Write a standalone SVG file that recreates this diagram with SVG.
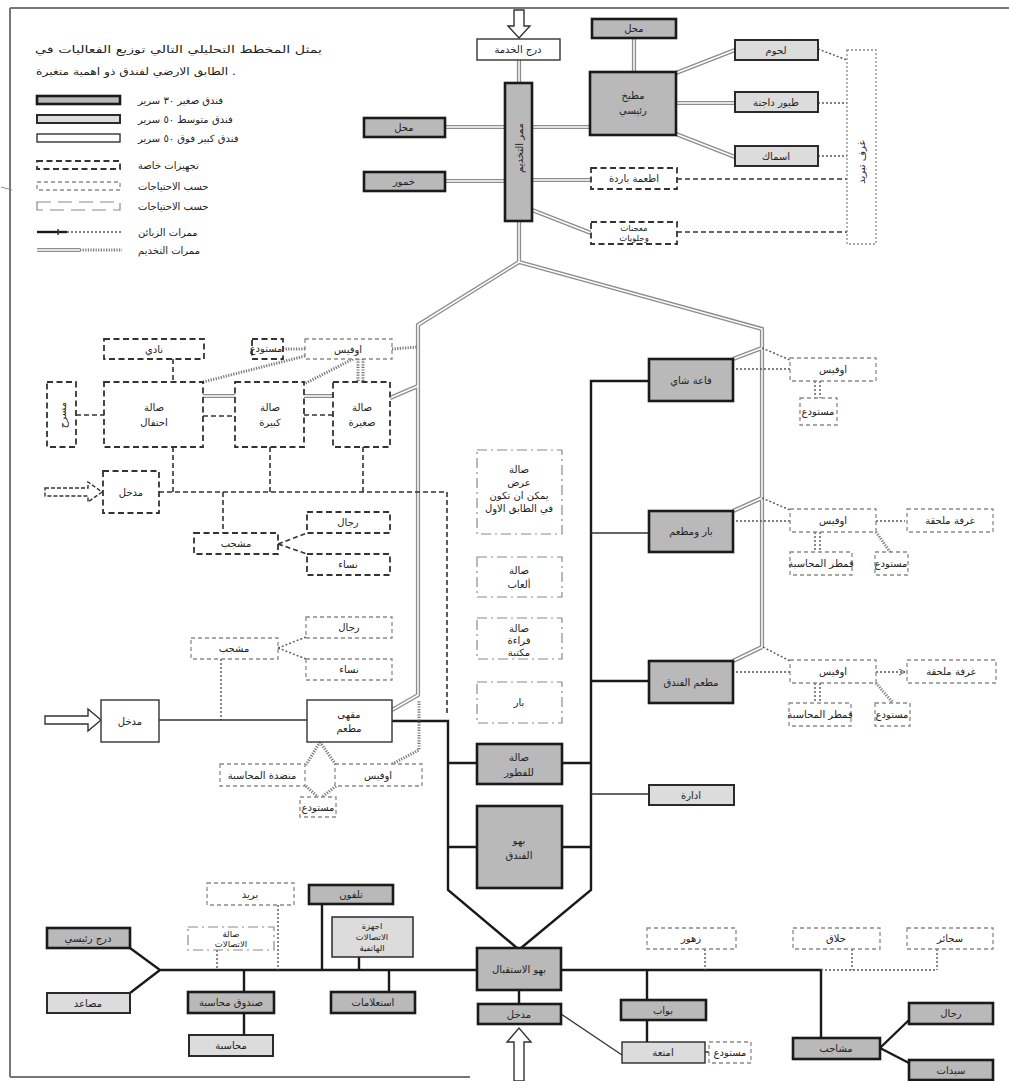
<svg xmlns="http://www.w3.org/2000/svg" width="1009" height="1081" viewBox="0 0 1009 1081">
<defs>
<style>
text{font-family:"DejaVu Sans","Noto Sans",sans-serif;font-size:10px;fill:#222;text-anchor:middle}
.st{text-anchor:start}
.en{text-anchor:end}
.s{fill:#b9b9b9;stroke:#1a1a1a;stroke-width:2.6}
.m{fill:#dcdcdc;stroke:#2a2a2a;stroke-width:2}
.l{fill:#fff;stroke:#333;stroke-width:1.4}
.x{fill:#fff;stroke:#333;stroke-width:1.8;stroke-dasharray:6 3.5}
.a{fill:#fff;stroke:#8a8a8a;stroke-width:1.3;stroke-dasharray:4 3}
.b{fill:#fff;stroke:#8a8a8a;stroke-width:1.2;stroke-dasharray:10 4 2 4}
.cs{fill:none;stroke:#1a1a1a;stroke-width:2.4}
.ct{fill:none;stroke:#333;stroke-width:1.3}
.cd{fill:none;stroke:#555;stroke-width:1.4;stroke-dasharray:2 2}
.ck{fill:none;stroke:#333;stroke-width:1.6;stroke-dasharray:5 3}
.ch{fill:none;stroke:#777;stroke-width:3;stroke-dasharray:1.2 1.4}
.so{fill:none;stroke:#8c8c8c;stroke-width:4.2}
.si{fill:none;stroke:#fff;stroke-width:1.5}
.arr{fill:#fff;stroke:#333;stroke-width:1.4}
.frame{fill:none;stroke:#777;stroke-width:2}
.sm{font-size:8.5px}
</style>
<marker id="ah" markerWidth="8" markerHeight="8" refX="6" refY="3" orient="auto" markerUnits="userSpaceOnUse"><path d="M0,0 L6,3 L0,6" fill="none" stroke="#555" stroke-width="1"/></marker>
<path id="svc" d="M519,60V83 M519,221V262L418,325V695L392,710 M519,262L762,329V647 M445,127H505 M445,181H505 M532,127H590 M532,180H591 M532,210L591,233 M634,38V72 M676,73L735,50 M676,103H735 M676,134L735,157 M762,348L733,359 M762,498L733,511 M762,647L733,661 M418,386L390,398 M203,396H235 M304,396H333"/>
</defs>
<rect width="1009" height="1081" fill="#fff"/>

<g id="frame">
<path class="frame" d="M10,8H1009 M10,8V1077 M10,1077H470"/>
<path d="M1,187L12,190" stroke="#888" stroke-width="1"/>
</g>

<g id="legend">
<text class="en" x="322" y="53" font-size="11.5" textLength="287" lengthAdjust="spacingAndGlyphs">يمثل المخطط التحليلي التالي توزيع الفعاليات في</text>
<text class="st" x="36" y="75" font-size="11.5" textLength="200" lengthAdjust="spacingAndGlyphs">الطابق الارضي لفندق ذو اهمية متغيرة .</text>
<rect class="s" x="37" y="96" width="83" height="8"/>
<text class="st" x="138" y="104">فندق صغير ٣٠ سرير</text>
<rect class="m" x="37" y="115" width="83" height="8"/>
<text class="st" x="138" y="123">فندق متوسط ٥٠ سرير</text>
<rect class="l" x="37" y="134" width="83" height="8"/>
<text class="st" x="138" y="142">فندق كبير فوق ٥٠ سرير</text>
<rect class="x" x="37" y="161" width="83" height="8"/>
<text class="st" x="138" y="169">تجهيزات خاصة</text>
<rect class="a" x="37" y="182" width="83" height="8"/>
<text class="st" x="138" y="190">حسب الاحتياجات</text>
<rect class="b" x="37" y="202" width="83" height="8" style="stroke-dasharray:14 7"/>
<text class="st" x="138" y="210">حسب الاحتياجات</text>
<path class="cs" d="M37,232H67" stroke-width="2"/>
<path d="M58,229V235" stroke="#333" stroke-width="1.5"/>
<path class="cd" d="M67,232H122"/>
<text class="st" x="138" y="236">ممرات الزبائن</text>
<path class="so" d="M37,250H80"/>
<path class="si" d="M37,250H80"/>
<path class="ch" d="M80,250H122"/>
<text class="st" x="138" y="254">ممرات التخديم</text>
</g>

<g id="connectors">
<use href="#svc" class="so"/>
<use href="#svc" class="si"/>
<path class="cd" d="M818,49L847,60 M818,103H847 M818,156H847"/>
<path class="ck" d="M677,179H847" stroke="#666"/>
<path class="ck" d="M677,232H847"/>
<polygon class="arr" points="514,10 524,10 524,26 530,26 519,38 508,26 514,26"/>
<polygon class="arr" points="45,488 88,488 88,482 102,492 88,502 88,496 45,496" style="stroke-dasharray:4 2"/>
<polygon class="arr" points="45,716 88,716 88,709 101,720 88,731 88,724 45,724"/>
<polygon class="arr" points="514,1081 524,1081 524,1042 531,1042 519,1028 507,1042 514,1042"/>
<path class="ck" d="M173,359V382 M76,415H104 M203,416H235 M304,415H333"/>
<path class="ch" d="M305,356L203,382 M353,359L304,384 M392,349L418,347 M283,349H305"/>
<path class="ch" d="M358,359V382 M363,359V382" stroke-width="1.6"/>
<path class="ck" d="M173,447V492 M270,447V492 M363,447V492 M159,492H447 M223,492V533 M278,544L307,533 M278,544L307,554"/>
<path class="ck" d="M447,492V713" stroke-dasharray="2.5 2.5" stroke-width="2"/>
<path class="cd" d="M278,648L306,637 M278,648L306,659 M221,659V720"/>
<path class="ct" d="M159,720H307"/>
<path class="cs" d="M392,721H448V890L517,948"/>
<path class="ch" d="M320,742L306,765 M320,742L336,765 M306,786L318,797 M336,786L322,797" stroke-width="2.2"/>
<path class="ch" d="M392,764L419,750V700" stroke-width="2.2"/>
<path class="cs" d="M649,381H591V890L521,948"/>
<path class="ct" d="M591,533H649 M591,794H649"/>
<path class="cs" d="M591,681H649" stroke-width="2"/>
<path class="cs" d="M448,763H477 M562,763H591 M448,847H477 M562,847H591"/>
<path class="cd" d="M762,348L790,360 M762,498L790,510 M763,647L790,661"/>
<path class="cd" d="M790,369H735 M790,521H735 M790,672H735 M876,521H905 M876,672H905" marker-end="url(#ah)"/>
<path class="cd" d="M815,381V398 M820,381V398 M815,532V552 M820,532V552 M815,683V703 M820,683V703" stroke-width="1.2"/>
<path class="ch" d="M876,532L890,552 M876,683L893,703" stroke-width="2.2"/>
<path class="cs" d="M160,970H477 M561,970H821V1038 M130,948L160,970L130,993" stroke-width="2"/>
<path class="cs" d="M322,904V970 M359,957V970 M244,970V992 M244,1013V1035 M389,970V992 M519,990V1004 M647,970V1000 M647,1020V1042 M880,1048L909,1020 M880,1048L909,1063" stroke-width="2"/>
<path class="ct" d="M705,1052H709 M561,1014L622,1055"/>
<path class="cd" d="M278,905V970 M217,950V970 M705,949V970 M821,970H937 M852,949V970 M937,949V970"/>
</g>

<g id="nodes">
<g id="n-service-stair"><rect class="l" x="477" y="39" width="83" height="21"/><text x="518" y="53">درج الخدمة</text></g>
<g id="n-service-corridor"><rect class="s" x="505" y="83" width="27" height="138"/><text transform="translate(519,148) rotate(-90)" y="4" font-size="11">ممر التخديم</text></g>
<g id="n-shop1"><rect class="s" x="364" y="118" width="81" height="19"/><text x="404" y="131">محل</text></g>
<g id="n-wine"><rect class="s" x="364" y="172" width="81" height="19"/><text x="404" y="185">خمور</text></g>
<g id="n-shop2"><rect class="s" x="592" y="19" width="84" height="19"/><text x="634" y="32">محل</text></g>
<g id="n-kitchen"><rect class="s" x="590" y="72" width="86" height="63"/><text x="633" y="99">مطبخ</text><text x="633" y="114">رئيسي</text></g>
<g id="n-meat"><rect class="m" x="735" y="40" width="83" height="20"/><text x="776" y="54">لحوم</text></g>
<g id="n-poultry"><rect class="m" x="735" y="92" width="83" height="20"/><text x="776" y="106">طيور داجنة</text></g>
<g id="n-fish"><rect class="m" x="735" y="146" width="83" height="20"/><text x="776" y="160">اسماك</text></g>
<g id="n-cold"><rect class="a" x="847" y="50" width="29" height="194" style="stroke-dasharray:2 2"/><text transform="translate(861,162) rotate(-90)" y="4">غرف تبريد</text></g>
<g id="n-cold-food"><rect class="x" x="591" y="168" width="86" height="21"/><text x="634" y="182">اطعمة باردة</text></g>
<g id="n-pastry"><rect class="x" x="591" y="222" width="86" height="22"/><text class="sm" x="634" y="231">معجنات</text><text class="sm" x="634" y="241">وحلويات</text></g>

<g id="n-club"><rect class="x" x="104" y="339" width="100" height="20"/><text x="154" y="353">نادي</text></g>
<g id="n-store-top"><rect class="x" x="252" y="339" width="31" height="20"/><text x="266" y="352" font-size="9">مستودع</text></g>
<g id="n-office-top"><rect class="a" x="305" y="339" width="87" height="20"/><text x="348" y="353">اوفيس</text></g>
<g id="n-stage"><rect class="x" x="47" y="382" width="29" height="65"/><text transform="translate(62,415) rotate(-90)" y="4">مسرح</text></g>
<g id="n-banquet"><rect class="x" x="104" y="382" width="99" height="65"/><text x="154" y="411">صالة</text><text x="154" y="426">احتفال</text></g>
<g id="n-large-hall"><rect class="x" x="235" y="382" width="69" height="65"/><text x="270" y="411">صالة</text><text x="270" y="426">كبيرة</text></g>
<g id="n-small-hall"><rect class="x" x="333" y="382" width="57" height="65"/><text x="362" y="411">صالة</text><text x="362" y="426">صغيرة</text></g>
<g id="n-entry-hall"><rect class="x" x="103" y="471" width="56" height="42"/><text x="131" y="496">مدخل</text></g>
<g id="n-cloak1"><rect class="x" x="194" y="533" width="84" height="21"/><text x="236" y="547">مشجب</text></g>
<g id="n-men1"><rect class="x" x="307" y="512" width="83" height="21"/><text x="348" y="526">رجال</text></g>
<g id="n-women1"><rect class="x" x="307" y="554" width="83" height="21"/><text x="348" y="568">نساء</text></g>

<g id="n-cloak2"><rect class="a" x="191" y="638" width="87" height="21"/><text x="234" y="652">مشجب</text></g>
<g id="n-men2"><rect class="a" x="306" y="617" width="86" height="21"/><text x="349" y="631">رجال</text></g>
<g id="n-women2"><rect class="a" x="306" y="659" width="86" height="21"/><text x="349" y="673">نساء</text></g>
<g id="n-entry-cafe"><rect class="l" x="101" y="700" width="58" height="42"/><text x="130" y="725">مدخل</text></g>
<g id="n-cafe"><rect class="l" x="307" y="700" width="85" height="42"/><text x="349" y="718">مقهى</text><text x="349" y="732">مطعم</text></g>
<g id="n-cashier-desk"><rect class="a" x="220" y="764" width="85" height="22"/><text x="262" y="779">منضدة المحاسبة</text></g>
<g id="n-office-cafe"><rect class="a" x="335" y="764" width="87" height="22"/><text x="378" y="779">اوفيس</text></g>
<g id="n-store-cafe"><rect class="a" x="300" y="797" width="36" height="20"/><text x="318" y="811" font-size="9">مستودع</text></g>

<g id="n-show"><rect class="b" x="477" y="450" width="85" height="84"/><text x="519" y="473">صالة</text><text x="519" y="486">عرض</text><text x="519" y="499">يمكن ان تكون</text><text x="519" y="512">في الطابق الاول</text></g>
<g id="n-games"><rect class="b" x="477" y="557" width="85" height="40"/><text x="519" y="574">صالة</text><text x="519" y="588">ألعاب</text></g>
<g id="n-reading"><rect class="b" x="477" y="618" width="85" height="41"/><text x="519" y="632">صالة</text><text x="519" y="644">قراءة</text><text x="519" y="656">مكتبة</text></g>
<g id="n-bar"><rect class="b" x="477" y="682" width="85" height="41"/><text x="519" y="706">بار</text></g>
<g id="n-breakfast"><rect class="s" x="477" y="744" width="85" height="40"/><text x="519" y="761">صالة</text><text x="519" y="776">للفطور</text></g>
<g id="n-lobby"><rect class="s" x="477" y="806" width="85" height="82"/><text x="519" y="844">بهو</text><text x="519" y="859">الفندق</text></g>

<g id="n-tea"><rect class="s" x="649" y="359" width="84" height="42"/><text x="691" y="384">قاعة شاي</text></g>
<g id="n-office-tea"><rect class="a" x="790" y="358" width="86" height="23"/><text x="833" y="373">اوفيس</text></g>
<g id="n-store-tea"><rect class="a" x="800" y="398" width="37" height="27"/><text x="818" y="415" font-size="9">مستودع</text></g>
<g id="n-bar-rest"><rect class="s" x="649" y="511" width="84" height="41"/><text x="691" y="535">بار ومطعم</text></g>
<g id="n-office-bar"><rect class="a" x="790" y="509" width="86" height="23"/><text x="833" y="524">اوفيس</text></g>
<g id="n-annex-bar"><rect class="a" x="907" y="509" width="86" height="23"/><text x="950" y="524">غرفة ملحقة</text></g>
<g id="n-till-bar"><rect class="a" x="790" y="552" width="62" height="23"/><text x="821" y="567" font-size="9">قمطر المحاسبة</text></g>
<g id="n-store-bar"><rect class="a" x="875" y="552" width="33" height="23"/><text x="891" y="567" font-size="9">مستودع</text></g>
<g id="n-hotel-rest"><rect class="s" x="649" y="661" width="84" height="42"/><text x="691" y="686">مطعم الفندق</text></g>
<g id="n-office-rest"><rect class="a" x="790" y="660" width="86" height="23"/><text x="833" y="675">اوفيس</text></g>
<g id="n-annex-rest"><rect class="a" x="907" y="660" width="89" height="23"/><text x="951" y="675">غرفة ملحقة</text></g>
<g id="n-till-rest"><rect class="a" x="789" y="703" width="62" height="23"/><text x="820" y="718" font-size="9">قمطر المحاسبة</text></g>
<g id="n-store-rest"><rect class="a" x="875" y="703" width="35" height="23"/><text x="892" y="718" font-size="9">مستودع</text></g>
<g id="n-admin"><rect class="m" x="649" y="785" width="85" height="20"/><text x="691" y="799">ادارة</text></g>

<g id="n-reception"><rect class="s" x="477" y="948" width="84" height="42"/><text x="519" y="973">بهو الاستقبال</text></g>
<g id="n-entry-main"><rect class="s" x="478" y="1004" width="83" height="20"/><text x="519" y="1018">مدخل</text></g>
<g id="n-phone"><rect class="s" x="309" y="885" width="84" height="19"/><text x="351" y="898">تلفون</text></g>
<g id="n-post"><rect class="a" x="207" y="883" width="87" height="22"/><text x="250" y="898">بريد</text></g>
<g id="n-comm-hall"><rect class="b" x="188" y="927" width="86" height="23"/><text class="sm" x="231" y="937">صالة</text><text class="sm" x="231" y="947">الاتصالات</text></g>
<g id="n-switchboard"><rect class="m" x="332" y="917" width="81" height="40" style="stroke-width:1.5"/><text class="sm" x="372" y="929">اجهزة</text><text class="sm" x="372" y="940">الاتصالات</text><text class="sm" x="372" y="951">الهاتفية</text></g>
<g id="n-main-stair"><rect class="s" x="47" y="928" width="83" height="20"/><text x="88" y="942">درج رئيسي</text></g>
<g id="n-elevators"><rect class="m" x="47" y="993" width="83" height="20"/><text x="88" y="1007">مصاعد</text></g>
<g id="n-cashbox"><rect class="s" x="188" y="992" width="86" height="21"/><text x="231" y="1006">صندوق محاسبة</text></g>
<g id="n-accounts"><rect class="m" x="189" y="1035" width="84" height="21"/><text x="231" y="1049">محاسبة</text></g>
<g id="n-inquiries"><rect class="s" x="331" y="992" width="84" height="21"/><text x="373" y="1006">استعلامات</text></g>
<g id="n-flowers"><rect class="a" x="647" y="928" width="89" height="21"/><text x="691" y="942">زهور</text></g>
<g id="n-porter"><rect class="s" x="621" y="1000" width="85" height="20"/><text x="663" y="1014">بواب</text></g>
<g id="n-luggage"><rect class="m" x="622" y="1042" width="83" height="21" style="stroke-width:1.4"/><text x="663" y="1056">امتعة</text></g>
<g id="n-store-lug"><rect class="a" x="709" y="1042" width="42" height="21"/><text x="730" y="1056" font-size="9">مستودع</text></g>
<g id="n-barber"><rect class="a" x="793" y="928" width="87" height="21"/><text x="836" y="942">حلاق</text></g>
<g id="n-tobacco"><rect class="a" x="907" y="928" width="86" height="21"/><text x="950" y="942">سجائر</text></g>
<g id="n-cloak3"><rect class="s" x="793" y="1038" width="87" height="21"/><text x="836" y="1052">مشاجب</text></g>
<g id="n-men3"><rect class="s" x="909" y="1003" width="84" height="21"/><text x="951" y="1017">رجال</text></g>
<g id="n-women3"><rect class="s" x="909" y="1060" width="84" height="20"/><text x="951" y="1074">سيدات</text></g>
</g>
</svg>
